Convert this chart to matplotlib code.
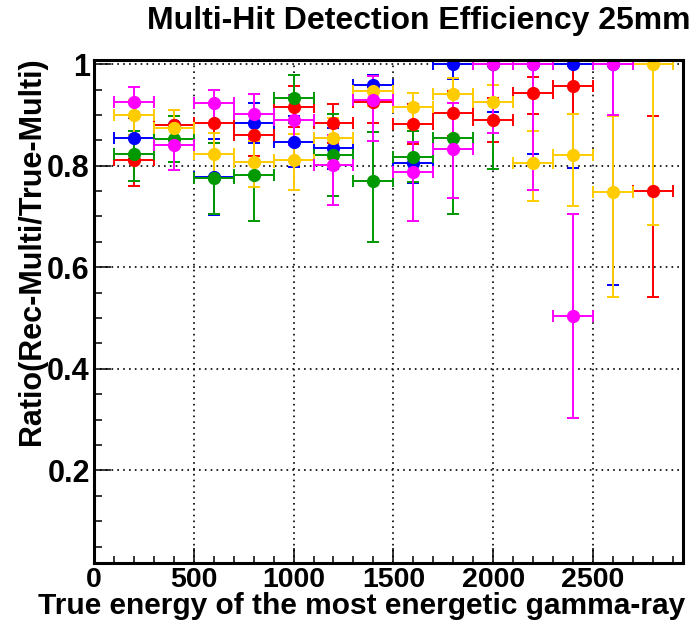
import numpy as np
import matplotlib
matplotlib.use("Agg")
import matplotlib.pyplot as plt
from matplotlib.ticker import MultipleLocator, FixedLocator, FixedFormatter

nan = np.nan
energy = [200, 400, 600, 800, 1000, 1200, 1400, 1600, 1800, 2000, 2200, 2400, 2600, 2800]
energy_halfwidth = 100

blue_y  = [0.854, 0.880, 0.778, 0.884, 0.847, 0.834, 0.959, 0.806, 1.000, 1.000, 1.000, 1.000, 1.000, nan]
blue_lo = [0.040, 0.030, 0.075, 0.040, 0.050, 0.040, 0.030, 0.040, 0.030, 0.095, 0.177, 0.205, 0.435, nan]
blue_hi = [0.040, 0.030, 0.075, 0.040, 0.050, 0.040, 0.020, 0.040, 0.000, 0.000, 0.000, 0.000, 0.000, nan]

red_y   = [0.811, 0.880, 0.884, 0.860, 0.916, 0.884, 0.925, 0.882, 0.903, 0.890, 0.944, 0.957, nan, 0.750]
red_lo  = [0.050, 0.030, 0.040, 0.040, 0.040, 0.040, 0.040, 0.040, 0.045, 0.043, 0.042, 0.055, nan, 0.209]
red_hi  = [0.050, 0.030, 0.040, 0.040, 0.040, 0.037, 0.030, 0.040, 0.045, 0.043, 0.030, 0.040, nan, 0.148]

green_y  = [0.824, 0.852, 0.775, 0.781, 0.934, 0.821, 0.770, 0.818, 0.854, 1.000, nan, nan, nan, nan]
green_lo = [0.054, 0.045, 0.070, 0.089, 0.050, 0.080, 0.121, 0.050, 0.150, 0.207, nan, nan, nan, nan]
green_hi = [0.045, 0.045, 0.070, 0.080, 0.044, 0.080, 0.097, 0.050, 0.090, 0.000, nan, nan, nan, nan]

gold_y  = [0.900, 0.875, 0.824, 0.808, 0.812, 0.854, 0.947, 0.915, 0.942, 0.926, 0.806, 0.821, 0.749, 1.000]
gold_lo = [0.040, 0.035, 0.044, 0.050, 0.060, 0.040, 0.030, 0.040, 0.040, 0.040, 0.076, 0.100, 0.208, 0.317]
gold_hi = [0.030, 0.035, 0.040, 0.040, 0.050, 0.040, 0.030, 0.029, 0.030, 0.033, 0.063, 0.081, 0.149, 0.000]

mag_y  = [0.926, 0.840, 0.924, 0.902, 0.890, 0.801, 0.929, 0.787, 0.833, 1.000, 1.000, 0.504, 1.000, nan]
mag_lo = [0.030, 0.049, 0.040, 0.050, 0.050, 0.079, 0.081, 0.095, 0.096, 0.136, 0.248, 0.200, 0.100, nan]
mag_hi = [0.029, 0.040, 0.025, 0.039, 0.050, 0.060, 0.047, 0.060, 0.090, 0.000, 0.000, 0.200, 0.000, nan]

series = [
    ("#0000ff", blue_y, blue_lo, blue_hi),
    ("#ff0000", red_y, red_lo, red_hi),
    ("#009900", green_y, green_lo, green_hi),
    ("#ffcc00", gold_y, gold_lo, gold_hi),
    ("#ff00ff", mag_y, mag_lo, mag_hi),
]

x_ticks = [0, 500, 1000, 1500, 2000, 2500]
x_tick_labels = ["0", "500", "1000", "1500", "2000", "2500"]
y_ticks = [0.2, 0.4, 0.6, 0.8, 1.0]
y_tick_labels = ["0.2", "0.4", "0.6", "0.8", "1"]

title = "Multi-Hit Detection Efficiency 25mm"
xlabel = "True energy of the most energetic gamma-ray"
ylabel = "Ratio(Rec-Multi/True-Multi)"

plt.rcParams['font.family'] = ['Liberation Sans', 'DejaVu Sans']
plt.rcParams['font.weight'] = 'bold'

fig = plt.figure(figsize=(6.96, 6.26), dpi=100)
ax = fig.add_axes([0.135, 0.101, 0.846, 0.803])

for color, y, lo, hi in series:
    ax.errorbar(energy, y, yerr=[lo, hi], xerr=energy_halfwidth,
                fmt='o', color=color, ecolor=color, markersize=8.5,
                markeredgecolor=color, elinewidth=1.4, capsize=4, capthick=1.4)

ax.set_xlim(0, 2950)
ax.set_ylim(0.018, 1.008)

ax.xaxis.set_major_locator(FixedLocator(x_ticks))
ax.xaxis.set_major_formatter(FixedFormatter(x_tick_labels))
ax.xaxis.set_minor_locator(MultipleLocator(100))
ax.yaxis.set_major_locator(FixedLocator(y_ticks))
ax.yaxis.set_major_formatter(FixedFormatter(y_tick_labels))
ax.yaxis.set_minor_locator(MultipleLocator(0.05))

ax.grid(True, which='major', color='black', linestyle=(0, (1, 2.5)), linewidth=1.2)
ax.set_axisbelow(True)

ax.tick_params(axis='x', which='major', direction='in', length=11, width=1.1,
               labelsize=20.5, pad=3, top=False)
ax.tick_params(axis='x', which='minor', direction='in', length=5, width=1.1, top=False)
ax.tick_params(axis='y', which='major', direction='in', length=12, width=1.1,
               labelsize=22, pad=3, right=False)
ax.tick_params(axis='y', which='minor', direction='in', length=6, width=1.1, right=False)
for lab in ax.get_xticklabels() + ax.get_yticklabels():
    lab.set_fontweight('bold')

for sp in ax.spines.values():
    sp.set_linewidth(2.2)

ax.set_xlabel(xlabel, fontsize=21.5, fontweight='bold', loc='right')
ax.xaxis.set_label_coords(1.004, -0.059)
ax.set_ylabel(ylabel, fontsize=22, fontweight='bold', loc='top')
ax.yaxis.set_label_coords(-0.08, 1.005)

fig.text(0.992, 0.967, title, fontsize=23, fontweight='bold', ha='right', va='center')

fig.savefig("out.png", dpi=100)
